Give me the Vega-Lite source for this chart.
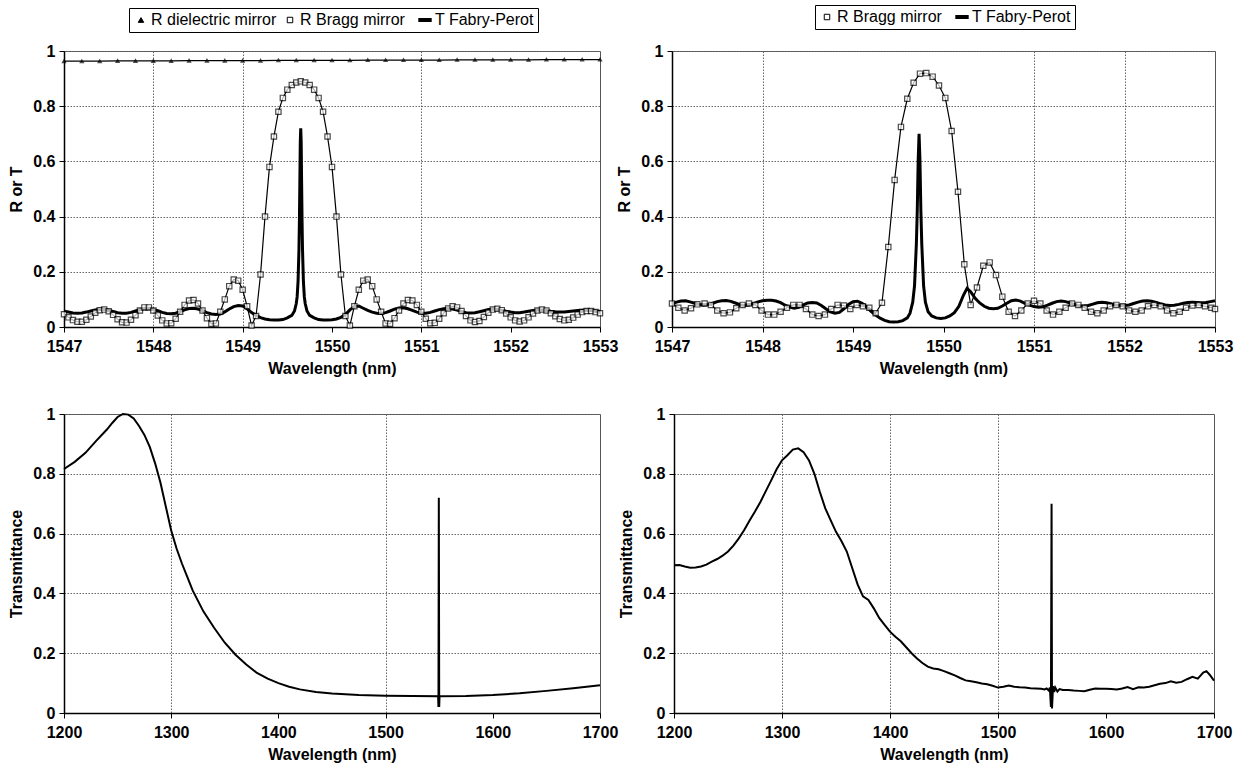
{
  "$schema": "https://vega.github.io/schema/vega-lite/v6.json",
  "background": "white",
  "padding": {"left": 8, "top": 4, "right": 5, "bottom": 5},
  "datasets": {
    "tl": [
      {"s":"R dielectric mirror","x":1547.0,"y":0.963},{"s":"R dielectric mirror","x":1547.2,"y":0.963},{"s":"R dielectric mirror","x":1547.4,"y":0.963},{"s":"R dielectric mirror","x":1547.6,"y":0.964},{"s":"R dielectric mirror","x":1547.8,"y":0.964},{"s":"R dielectric mirror","x":1548.0,"y":0.964},{"s":"R dielectric mirror","x":1548.2,"y":0.964},{"s":"R dielectric mirror","x":1548.4,"y":0.965},{"s":"R dielectric mirror","x":1548.6,"y":0.965},{"s":"R dielectric mirror","x":1548.8,"y":0.965},{"s":"R dielectric mirror","x":1549.0,"y":0.965},{"s":"R dielectric mirror","x":1549.2,"y":0.965},{"s":"R dielectric mirror","x":1549.4,"y":0.966},{"s":"R dielectric mirror","x":1549.6,"y":0.966},{"s":"R dielectric mirror","x":1549.8,"y":0.966},{"s":"R dielectric mirror","x":1550.0,"y":0.966},{"s":"R dielectric mirror","x":1550.2,"y":0.966},{"s":"R dielectric mirror","x":1550.4,"y":0.967},{"s":"R dielectric mirror","x":1550.6,"y":0.967},{"s":"R dielectric mirror","x":1550.8,"y":0.967},{"s":"R dielectric mirror","x":1551.0,"y":0.967},{"s":"R dielectric mirror","x":1551.2,"y":0.967},{"s":"R dielectric mirror","x":1551.4,"y":0.968},{"s":"R dielectric mirror","x":1551.6,"y":0.968},{"s":"R dielectric mirror","x":1551.8,"y":0.968},{"s":"R dielectric mirror","x":1552.0,"y":0.968},{"s":"R dielectric mirror","x":1552.2,"y":0.968},{"s":"R dielectric mirror","x":1552.4,"y":0.969},{"s":"R dielectric mirror","x":1552.6,"y":0.969},{"s":"R dielectric mirror","x":1552.8,"y":0.969},{"s":"R dielectric mirror","x":1553.0,"y":0.969},
      {"s":"R Bragg mirror","x":1547.00,"y":0.046},{"s":"R Bragg mirror","x":1547.05,"y":0.035},{"s":"R Bragg mirror","x":1547.10,"y":0.025},{"s":"R Bragg mirror","x":1547.15,"y":0.019},{"s":"R Bragg mirror","x":1547.20,"y":0.019},{"s":"R Bragg mirror","x":1547.25,"y":0.026},{"s":"R Bragg mirror","x":1547.30,"y":0.038},{"s":"R Bragg mirror","x":1547.35,"y":0.052},{"s":"R Bragg mirror","x":1547.40,"y":0.061},{"s":"R Bragg mirror","x":1547.45,"y":0.063},
      {"s":"R Bragg mirror","x":1547.50,"y":0.057},{"s":"R Bragg mirror","x":1547.55,"y":0.044},{"s":"R Bragg mirror","x":1547.60,"y":0.028},{"s":"R Bragg mirror","x":1547.65,"y":0.017},{"s":"R Bragg mirror","x":1547.70,"y":0.016},{"s":"R Bragg mirror","x":1547.75,"y":0.026},{"s":"R Bragg mirror","x":1547.80,"y":0.043},{"s":"R Bragg mirror","x":1547.85,"y":0.060},{"s":"R Bragg mirror","x":1547.90,"y":0.071},{"s":"R Bragg mirror","x":1547.95,"y":0.071},
      {"s":"R Bragg mirror","x":1548.00,"y":0.060},{"s":"R Bragg mirror","x":1548.05,"y":0.042},{"s":"R Bragg mirror","x":1548.10,"y":0.024},{"s":"R Bragg mirror","x":1548.15,"y":0.013},{"s":"R Bragg mirror","x":1548.20,"y":0.014},{"s":"R Bragg mirror","x":1548.25,"y":0.030},{"s":"R Bragg mirror","x":1548.30,"y":0.055},{"s":"R Bragg mirror","x":1548.35,"y":0.080},{"s":"R Bragg mirror","x":1548.40,"y":0.096},{"s":"R Bragg mirror","x":1548.45,"y":0.098},
      {"s":"R Bragg mirror","x":1548.50,"y":0.085},{"s":"R Bragg mirror","x":1548.55,"y":0.060},{"s":"R Bragg mirror","x":1548.60,"y":0.032},{"s":"R Bragg mirror","x":1548.65,"y":0.012},{"s":"R Bragg mirror","x":1548.70,"y":0.013},{"s":"R Bragg mirror","x":1548.75,"y":0.055},{"s":"R Bragg mirror","x":1548.80,"y":0.100},{"s":"R Bragg mirror","x":1548.85,"y":0.148},{"s":"R Bragg mirror","x":1548.90,"y":0.172},{"s":"R Bragg mirror","x":1548.95,"y":0.168},
      {"s":"R Bragg mirror","x":1549.00,"y":0.135},{"s":"R Bragg mirror","x":1549.05,"y":0.075},{"s":"R Bragg mirror","x":1549.10,"y":0.005},{"s":"R Bragg mirror","x":1549.15,"y":0.040},{"s":"R Bragg mirror","x":1549.20,"y":0.190},{"s":"R Bragg mirror","x":1549.25,"y":0.400},{"s":"R Bragg mirror","x":1549.30,"y":0.580},{"s":"R Bragg mirror","x":1549.35,"y":0.690},{"s":"R Bragg mirror","x":1549.40,"y":0.780},{"s":"R Bragg mirror","x":1549.45,"y":0.830},
      {"s":"R Bragg mirror","x":1549.50,"y":0.860},{"s":"R Bragg mirror","x":1549.55,"y":0.877},{"s":"R Bragg mirror","x":1549.60,"y":0.886},{"s":"R Bragg mirror","x":1549.65,"y":0.890},{"s":"R Bragg mirror","x":1549.70,"y":0.886},{"s":"R Bragg mirror","x":1549.75,"y":0.877},{"s":"R Bragg mirror","x":1549.80,"y":0.860},{"s":"R Bragg mirror","x":1549.85,"y":0.830},{"s":"R Bragg mirror","x":1549.90,"y":0.780},{"s":"R Bragg mirror","x":1549.95,"y":0.690},
      {"s":"R Bragg mirror","x":1550.00,"y":0.580},{"s":"R Bragg mirror","x":1550.05,"y":0.400},{"s":"R Bragg mirror","x":1550.10,"y":0.190},{"s":"R Bragg mirror","x":1550.15,"y":0.040},{"s":"R Bragg mirror","x":1550.20,"y":0.005},{"s":"R Bragg mirror","x":1550.25,"y":0.075},{"s":"R Bragg mirror","x":1550.30,"y":0.135},{"s":"R Bragg mirror","x":1550.35,"y":0.168},{"s":"R Bragg mirror","x":1550.40,"y":0.172},{"s":"R Bragg mirror","x":1550.45,"y":0.148},
      {"s":"R Bragg mirror","x":1550.50,"y":0.100},{"s":"R Bragg mirror","x":1550.55,"y":0.055},{"s":"R Bragg mirror","x":1550.60,"y":0.013},{"s":"R Bragg mirror","x":1550.65,"y":0.012},{"s":"R Bragg mirror","x":1550.70,"y":0.032},{"s":"R Bragg mirror","x":1550.75,"y":0.060},{"s":"R Bragg mirror","x":1550.80,"y":0.085},{"s":"R Bragg mirror","x":1550.85,"y":0.098},{"s":"R Bragg mirror","x":1550.90,"y":0.096},{"s":"R Bragg mirror","x":1550.95,"y":0.080},
      {"s":"R Bragg mirror","x":1551.00,"y":0.055},{"s":"R Bragg mirror","x":1551.05,"y":0.030},{"s":"R Bragg mirror","x":1551.10,"y":0.014},{"s":"R Bragg mirror","x":1551.15,"y":0.015},{"s":"R Bragg mirror","x":1551.20,"y":0.030},{"s":"R Bragg mirror","x":1551.25,"y":0.050},{"s":"R Bragg mirror","x":1551.30,"y":0.067},{"s":"R Bragg mirror","x":1551.35,"y":0.075},{"s":"R Bragg mirror","x":1551.40,"y":0.071},{"s":"R Bragg mirror","x":1551.45,"y":0.058},
      {"s":"R Bragg mirror","x":1551.50,"y":0.040},{"s":"R Bragg mirror","x":1551.55,"y":0.024},{"s":"R Bragg mirror","x":1551.60,"y":0.018},{"s":"R Bragg mirror","x":1551.65,"y":0.022},{"s":"R Bragg mirror","x":1551.70,"y":0.036},{"s":"R Bragg mirror","x":1551.75,"y":0.052},{"s":"R Bragg mirror","x":1551.80,"y":0.063},{"s":"R Bragg mirror","x":1551.85,"y":0.066},{"s":"R Bragg mirror","x":1551.90,"y":0.061},{"s":"R Bragg mirror","x":1551.95,"y":0.049},
      {"s":"R Bragg mirror","x":1552.00,"y":0.035},{"s":"R Bragg mirror","x":1552.05,"y":0.024},{"s":"R Bragg mirror","x":1552.10,"y":0.020},{"s":"R Bragg mirror","x":1552.15,"y":0.024},{"s":"R Bragg mirror","x":1552.20,"y":0.035},{"s":"R Bragg mirror","x":1552.25,"y":0.049},{"s":"R Bragg mirror","x":1552.30,"y":0.060},{"s":"R Bragg mirror","x":1552.35,"y":0.063},{"s":"R Bragg mirror","x":1552.40,"y":0.060},{"s":"R Bragg mirror","x":1552.45,"y":0.050},
      {"s":"R Bragg mirror","x":1552.50,"y":0.039},{"s":"R Bragg mirror","x":1552.55,"y":0.029},{"s":"R Bragg mirror","x":1552.60,"y":0.024},{"s":"R Bragg mirror","x":1552.65,"y":0.026},{"s":"R Bragg mirror","x":1552.70,"y":0.034},{"s":"R Bragg mirror","x":1552.75,"y":0.045},{"s":"R Bragg mirror","x":1552.80,"y":0.054},{"s":"R Bragg mirror","x":1552.85,"y":0.058},{"s":"R Bragg mirror","x":1552.90,"y":0.058},{"s":"R Bragg mirror","x":1552.95,"y":0.054},{"s":"R Bragg mirror","x":1553.00,"y":0.050},
      {"s":"T Fabry-Perot","x":1547.00,"y":0.057},{"s":"T Fabry-Perot","x":1547.05,"y":0.054},{"s":"T Fabry-Perot","x":1547.10,"y":0.051},{"s":"T Fabry-Perot","x":1547.15,"y":0.050},{"s":"T Fabry-Perot","x":1547.20,"y":0.051},{"s":"T Fabry-Perot","x":1547.25,"y":0.054},{"s":"T Fabry-Perot","x":1547.30,"y":0.058},{"s":"T Fabry-Perot","x":1547.35,"y":0.062},{"s":"T Fabry-Perot","x":1547.40,"y":0.064},{"s":"T Fabry-Perot","x":1547.45,"y":0.063},
      {"s":"T Fabry-Perot","x":1547.50,"y":0.060},{"s":"T Fabry-Perot","x":1547.55,"y":0.056},{"s":"T Fabry-Perot","x":1547.60,"y":0.052},{"s":"T Fabry-Perot","x":1547.65,"y":0.050},{"s":"T Fabry-Perot","x":1547.70,"y":0.050},{"s":"T Fabry-Perot","x":1547.75,"y":0.053},{"s":"T Fabry-Perot","x":1547.80,"y":0.058},{"s":"T Fabry-Perot","x":1547.85,"y":0.063},{"s":"T Fabry-Perot","x":1547.90,"y":0.066},{"s":"T Fabry-Perot","x":1547.95,"y":0.067},
      {"s":"T Fabry-Perot","x":1548.00,"y":0.064},{"s":"T Fabry-Perot","x":1548.05,"y":0.059},{"s":"T Fabry-Perot","x":1548.10,"y":0.053},{"s":"T Fabry-Perot","x":1548.15,"y":0.049},{"s":"T Fabry-Perot","x":1548.20,"y":0.048},{"s":"T Fabry-Perot","x":1548.25,"y":0.050},{"s":"T Fabry-Perot","x":1548.30,"y":0.056},{"s":"T Fabry-Perot","x":1548.35,"y":0.062},{"s":"T Fabry-Perot","x":1548.40,"y":0.067},{"s":"T Fabry-Perot","x":1548.45,"y":0.068},
      {"s":"T Fabry-Perot","x":1548.50,"y":0.065},{"s":"T Fabry-Perot","x":1548.55,"y":0.059},{"s":"T Fabry-Perot","x":1548.60,"y":0.052},{"s":"T Fabry-Perot","x":1548.65,"y":0.047},{"s":"T Fabry-Perot","x":1548.70,"y":0.045},{"s":"T Fabry-Perot","x":1548.75,"y":0.047},{"s":"T Fabry-Perot","x":1548.80,"y":0.055},{"s":"T Fabry-Perot","x":1548.85,"y":0.065},{"s":"T Fabry-Perot","x":1548.90,"y":0.074},{"s":"T Fabry-Perot","x":1548.95,"y":0.078},
      {"s":"T Fabry-Perot","x":1549.00,"y":0.076},{"s":"T Fabry-Perot","x":1549.05,"y":0.066},{"s":"T Fabry-Perot","x":1549.10,"y":0.052},{"s":"T Fabry-Perot","x":1549.15,"y":0.042},{"s":"T Fabry-Perot","x":1549.20,"y":0.034},{"s":"T Fabry-Perot","x":1549.25,"y":0.029},{"s":"T Fabry-Perot","x":1549.30,"y":0.026},{"s":"T Fabry-Perot","x":1549.35,"y":0.025},{"s":"T Fabry-Perot","x":1549.40,"y":0.025},{"s":"T Fabry-Perot","x":1549.45,"y":0.027},
      {"s":"T Fabry-Perot","x":1549.50,"y":0.033},{"s":"T Fabry-Perot","x":1549.55,"y":0.042},{"s":"T Fabry-Perot","x":1549.58,"y":0.058},{"s":"T Fabry-Perot","x":1549.60,"y":0.085},{"s":"T Fabry-Perot","x":1549.61,"y":0.110},{"s":"T Fabry-Perot","x":1549.62,"y":0.165},{"s":"T Fabry-Perot","x":1549.63,"y":0.280},{"s":"T Fabry-Perot","x":1549.635,"y":0.380},{"s":"T Fabry-Perot","x":1549.64,"y":0.520},{"s":"T Fabry-Perot","x":1549.645,"y":0.670},{"s":"T Fabry-Perot","x":1549.65,"y":0.720},
      {"s":"T Fabry-Perot","x":1549.655,"y":0.670},{"s":"T Fabry-Perot","x":1549.66,"y":0.520},{"s":"T Fabry-Perot","x":1549.665,"y":0.380},{"s":"T Fabry-Perot","x":1549.67,"y":0.280},{"s":"T Fabry-Perot","x":1549.68,"y":0.165},{"s":"T Fabry-Perot","x":1549.69,"y":0.110},{"s":"T Fabry-Perot","x":1549.70,"y":0.085},{"s":"T Fabry-Perot","x":1549.72,"y":0.058},{"s":"T Fabry-Perot","x":1549.75,"y":0.042},{"s":"T Fabry-Perot","x":1549.80,"y":0.033},
      {"s":"T Fabry-Perot","x":1549.85,"y":0.027},{"s":"T Fabry-Perot","x":1549.90,"y":0.025},{"s":"T Fabry-Perot","x":1549.95,"y":0.025},{"s":"T Fabry-Perot","x":1550.00,"y":0.026},{"s":"T Fabry-Perot","x":1550.05,"y":0.029},{"s":"T Fabry-Perot","x":1550.10,"y":0.035},{"s":"T Fabry-Perot","x":1550.15,"y":0.045},{"s":"T Fabry-Perot","x":1550.20,"y":0.062},{"s":"T Fabry-Perot","x":1550.25,"y":0.074},{"s":"T Fabry-Perot","x":1550.30,"y":0.076},
      {"s":"T Fabry-Perot","x":1550.35,"y":0.068},{"s":"T Fabry-Perot","x":1550.40,"y":0.060},{"s":"T Fabry-Perot","x":1550.45,"y":0.054},{"s":"T Fabry-Perot","x":1550.50,"y":0.050},{"s":"T Fabry-Perot","x":1550.55,"y":0.049},{"s":"T Fabry-Perot","x":1550.60,"y":0.052},{"s":"T Fabry-Perot","x":1550.65,"y":0.058},{"s":"T Fabry-Perot","x":1550.70,"y":0.065},{"s":"T Fabry-Perot","x":1550.75,"y":0.069},{"s":"T Fabry-Perot","x":1550.80,"y":0.070},
      {"s":"T Fabry-Perot","x":1550.85,"y":0.066},{"s":"T Fabry-Perot","x":1550.90,"y":0.060},{"s":"T Fabry-Perot","x":1550.95,"y":0.054},{"s":"T Fabry-Perot","x":1551.00,"y":0.050},{"s":"T Fabry-Perot","x":1551.05,"y":0.050},{"s":"T Fabry-Perot","x":1551.10,"y":0.053},{"s":"T Fabry-Perot","x":1551.15,"y":0.058},{"s":"T Fabry-Perot","x":1551.20,"y":0.063},{"s":"T Fabry-Perot","x":1551.25,"y":0.066},{"s":"T Fabry-Perot","x":1551.30,"y":0.067},
      {"s":"T Fabry-Perot","x":1551.35,"y":0.065},{"s":"T Fabry-Perot","x":1551.40,"y":0.061},{"s":"T Fabry-Perot","x":1551.45,"y":0.056},{"s":"T Fabry-Perot","x":1551.50,"y":0.052},{"s":"T Fabry-Perot","x":1551.55,"y":0.051},{"s":"T Fabry-Perot","x":1551.60,"y":0.052},{"s":"T Fabry-Perot","x":1551.65,"y":0.055},{"s":"T Fabry-Perot","x":1551.70,"y":0.059},{"s":"T Fabry-Perot","x":1551.75,"y":0.063},{"s":"T Fabry-Perot","x":1551.80,"y":0.064},
      {"s":"T Fabry-Perot","x":1551.85,"y":0.064},{"s":"T Fabry-Perot","x":1551.90,"y":0.061},{"s":"T Fabry-Perot","x":1551.95,"y":0.057},{"s":"T Fabry-Perot","x":1552.00,"y":0.054},{"s":"T Fabry-Perot","x":1552.05,"y":0.052},{"s":"T Fabry-Perot","x":1552.10,"y":0.052},{"s":"T Fabry-Perot","x":1552.15,"y":0.054},{"s":"T Fabry-Perot","x":1552.20,"y":0.057},{"s":"T Fabry-Perot","x":1552.25,"y":0.060},{"s":"T Fabry-Perot","x":1552.30,"y":0.062},
      {"s":"T Fabry-Perot","x":1552.35,"y":0.062},{"s":"T Fabry-Perot","x":1552.40,"y":0.060},{"s":"T Fabry-Perot","x":1552.45,"y":0.057},{"s":"T Fabry-Perot","x":1552.50,"y":0.055},{"s":"T Fabry-Perot","x":1552.55,"y":0.054},{"s":"T Fabry-Perot","x":1552.60,"y":0.054},{"s":"T Fabry-Perot","x":1552.65,"y":0.056},{"s":"T Fabry-Perot","x":1552.70,"y":0.058},{"s":"T Fabry-Perot","x":1552.75,"y":0.060},{"s":"T Fabry-Perot","x":1552.80,"y":0.061},
      {"s":"T Fabry-Perot","x":1552.85,"y":0.061},{"s":"T Fabry-Perot","x":1552.90,"y":0.060},{"s":"T Fabry-Perot","x":1552.95,"y":0.058},{"s":"T Fabry-Perot","x":1553.00,"y":0.057}
    ],
    "tr": [
      {"s":"R Bragg mirror","x":1547.00,"y":0.085},{"s":"R Bragg mirror","x":1547.07,"y":0.070},{"s":"R Bragg mirror","x":1547.14,"y":0.060},{"s":"R Bragg mirror","x":1547.21,"y":0.068},{"s":"R Bragg mirror","x":1547.28,"y":0.082},{"s":"R Bragg mirror","x":1547.36,"y":0.085},{"s":"R Bragg mirror","x":1547.43,"y":0.080},{"s":"R Bragg mirror","x":1547.50,"y":0.060},{"s":"R Bragg mirror","x":1547.57,"y":0.050},{"s":"R Bragg mirror","x":1547.64,"y":0.053},
      {"s":"R Bragg mirror","x":1547.71,"y":0.068},{"s":"R Bragg mirror","x":1547.78,"y":0.080},{"s":"R Bragg mirror","x":1547.85,"y":0.085},{"s":"R Bragg mirror","x":1547.92,"y":0.080},{"s":"R Bragg mirror","x":1547.99,"y":0.060},{"s":"R Bragg mirror","x":1548.06,"y":0.045},{"s":"R Bragg mirror","x":1548.13,"y":0.045},{"s":"R Bragg mirror","x":1548.20,"y":0.055},{"s":"R Bragg mirror","x":1548.27,"y":0.070},{"s":"R Bragg mirror","x":1548.34,"y":0.080},
      {"s":"R Bragg mirror","x":1548.41,"y":0.080},{"s":"R Bragg mirror","x":1548.48,"y":0.065},{"s":"R Bragg mirror","x":1548.55,"y":0.045},{"s":"R Bragg mirror","x":1548.62,"y":0.040},{"s":"R Bragg mirror","x":1548.69,"y":0.045},{"s":"R Bragg mirror","x":1548.76,"y":0.065},{"s":"R Bragg mirror","x":1548.83,"y":0.080},{"s":"R Bragg mirror","x":1548.90,"y":0.078},{"s":"R Bragg mirror","x":1548.97,"y":0.065},{"s":"R Bragg mirror","x":1549.04,"y":0.080},
      {"s":"R Bragg mirror","x":1549.11,"y":0.075},{"s":"R Bragg mirror","x":1549.18,"y":0.070},{"s":"R Bragg mirror","x":1549.25,"y":0.050},{"s":"R Bragg mirror","x":1549.32,"y":0.088},{"s":"R Bragg mirror","x":1549.39,"y":0.290},{"s":"R Bragg mirror","x":1549.46,"y":0.533},{"s":"R Bragg mirror","x":1549.53,"y":0.725},{"s":"R Bragg mirror","x":1549.60,"y":0.827},{"s":"R Bragg mirror","x":1549.67,"y":0.885},{"s":"R Bragg mirror","x":1549.74,"y":0.918},
      {"s":"R Bragg mirror","x":1549.81,"y":0.920},{"s":"R Bragg mirror","x":1549.88,"y":0.907},{"s":"R Bragg mirror","x":1549.95,"y":0.875},{"s":"R Bragg mirror","x":1550.02,"y":0.830},{"s":"R Bragg mirror","x":1550.09,"y":0.710},{"s":"R Bragg mirror","x":1550.16,"y":0.490},{"s":"R Bragg mirror","x":1550.23,"y":0.227},{"s":"R Bragg mirror","x":1550.30,"y":0.080},{"s":"R Bragg mirror","x":1550.37,"y":0.143},{"s":"R Bragg mirror","x":1550.44,"y":0.222},
      {"s":"R Bragg mirror","x":1550.51,"y":0.234},{"s":"R Bragg mirror","x":1550.58,"y":0.188},{"s":"R Bragg mirror","x":1550.65,"y":0.110},{"s":"R Bragg mirror","x":1550.72,"y":0.055},{"s":"R Bragg mirror","x":1550.79,"y":0.040},{"s":"R Bragg mirror","x":1550.86,"y":0.060},{"s":"R Bragg mirror","x":1550.93,"y":0.085},{"s":"R Bragg mirror","x":1551.00,"y":0.095},{"s":"R Bragg mirror","x":1551.07,"y":0.085},{"s":"R Bragg mirror","x":1551.14,"y":0.060},
      {"s":"R Bragg mirror","x":1551.21,"y":0.045},{"s":"R Bragg mirror","x":1551.28,"y":0.055},{"s":"R Bragg mirror","x":1551.35,"y":0.070},{"s":"R Bragg mirror","x":1551.42,"y":0.085},{"s":"R Bragg mirror","x":1551.49,"y":0.080},{"s":"R Bragg mirror","x":1551.56,"y":0.070},{"s":"R Bragg mirror","x":1551.63,"y":0.055},{"s":"R Bragg mirror","x":1551.70,"y":0.050},{"s":"R Bragg mirror","x":1551.77,"y":0.060},{"s":"R Bragg mirror","x":1551.84,"y":0.075},
      {"s":"R Bragg mirror","x":1551.91,"y":0.080},{"s":"R Bragg mirror","x":1551.98,"y":0.075},{"s":"R Bragg mirror","x":1552.05,"y":0.060},{"s":"R Bragg mirror","x":1552.12,"y":0.055},{"s":"R Bragg mirror","x":1552.19,"y":0.060},{"s":"R Bragg mirror","x":1552.26,"y":0.075},{"s":"R Bragg mirror","x":1552.33,"y":0.080},{"s":"R Bragg mirror","x":1552.40,"y":0.075},{"s":"R Bragg mirror","x":1552.47,"y":0.060},{"s":"R Bragg mirror","x":1552.54,"y":0.050},
      {"s":"R Bragg mirror","x":1552.61,"y":0.055},{"s":"R Bragg mirror","x":1552.68,"y":0.070},{"s":"R Bragg mirror","x":1552.75,"y":0.078},{"s":"R Bragg mirror","x":1552.82,"y":0.080},{"s":"R Bragg mirror","x":1552.89,"y":0.075},{"s":"R Bragg mirror","x":1552.96,"y":0.070},{"s":"R Bragg mirror","x":1553.00,"y":0.065},
      {"s":"T Fabry-Perot","x":1547.00,"y":0.084},{"s":"T Fabry-Perot","x":1547.05,"y":0.090},{"s":"T Fabry-Perot","x":1547.10,"y":0.094},{"s":"T Fabry-Perot","x":1547.15,"y":0.095},{"s":"T Fabry-Perot","x":1547.20,"y":0.091},{"s":"T Fabry-Perot","x":1547.25,"y":0.086},{"s":"T Fabry-Perot","x":1547.30,"y":0.081},{"s":"T Fabry-Perot","x":1547.35,"y":0.079},{"s":"T Fabry-Perot","x":1547.40,"y":0.081},{"s":"T Fabry-Perot","x":1547.45,"y":0.086},
      {"s":"T Fabry-Perot","x":1547.50,"y":0.092},{"s":"T Fabry-Perot","x":1547.55,"y":0.095},{"s":"T Fabry-Perot","x":1547.60,"y":0.096},{"s":"T Fabry-Perot","x":1547.65,"y":0.093},{"s":"T Fabry-Perot","x":1547.70,"y":0.087},{"s":"T Fabry-Perot","x":1547.75,"y":0.081},{"s":"T Fabry-Perot","x":1547.80,"y":0.078},{"s":"T Fabry-Perot","x":1547.85,"y":0.080},{"s":"T Fabry-Perot","x":1547.90,"y":0.085},{"s":"T Fabry-Perot","x":1547.95,"y":0.091},
      {"s":"T Fabry-Perot","x":1548.00,"y":0.095},{"s":"T Fabry-Perot","x":1548.05,"y":0.097},{"s":"T Fabry-Perot","x":1548.10,"y":0.097},{"s":"T Fabry-Perot","x":1548.15,"y":0.094},{"s":"T Fabry-Perot","x":1548.20,"y":0.088},{"s":"T Fabry-Perot","x":1548.25,"y":0.079},{"s":"T Fabry-Perot","x":1548.30,"y":0.072},{"s":"T Fabry-Perot","x":1548.35,"y":0.068},{"s":"T Fabry-Perot","x":1548.40,"y":0.071},{"s":"T Fabry-Perot","x":1548.45,"y":0.080},
      {"s":"T Fabry-Perot","x":1548.50,"y":0.087},{"s":"T Fabry-Perot","x":1548.55,"y":0.089},{"s":"T Fabry-Perot","x":1548.60,"y":0.087},{"s":"T Fabry-Perot","x":1548.65,"y":0.078},{"s":"T Fabry-Perot","x":1548.70,"y":0.066},{"s":"T Fabry-Perot","x":1548.75,"y":0.055},{"s":"T Fabry-Perot","x":1548.80,"y":0.050},{"s":"T Fabry-Perot","x":1548.85,"y":0.053},{"s":"T Fabry-Perot","x":1548.90,"y":0.066},{"s":"T Fabry-Perot","x":1548.95,"y":0.082},
      {"s":"T Fabry-Perot","x":1549.00,"y":0.092},{"s":"T Fabry-Perot","x":1549.05,"y":0.093},{"s":"T Fabry-Perot","x":1549.10,"y":0.086},{"s":"T Fabry-Perot","x":1549.15,"y":0.073},{"s":"T Fabry-Perot","x":1549.20,"y":0.057},{"s":"T Fabry-Perot","x":1549.25,"y":0.043},{"s":"T Fabry-Perot","x":1549.30,"y":0.032},{"s":"T Fabry-Perot","x":1549.35,"y":0.024},{"s":"T Fabry-Perot","x":1549.40,"y":0.019},{"s":"T Fabry-Perot","x":1549.45,"y":0.018},
      {"s":"T Fabry-Perot","x":1549.50,"y":0.019},{"s":"T Fabry-Perot","x":1549.55,"y":0.023},{"s":"T Fabry-Perot","x":1549.60,"y":0.033},{"s":"T Fabry-Perot","x":1549.63,"y":0.050},{"s":"T Fabry-Perot","x":1549.66,"y":0.090},{"s":"T Fabry-Perot","x":1549.68,"y":0.150},{"s":"T Fabry-Perot","x":1549.70,"y":0.300},{"s":"T Fabry-Perot","x":1549.71,"y":0.420},{"s":"T Fabry-Perot","x":1549.72,"y":0.600},{"s":"T Fabry-Perot","x":1549.73,"y":0.700},
      {"s":"T Fabry-Perot","x":1549.74,"y":0.600},{"s":"T Fabry-Perot","x":1549.75,"y":0.420},{"s":"T Fabry-Perot","x":1549.76,"y":0.300},{"s":"T Fabry-Perot","x":1549.78,"y":0.150},{"s":"T Fabry-Perot","x":1549.80,"y":0.090},{"s":"T Fabry-Perot","x":1549.83,"y":0.055},{"s":"T Fabry-Perot","x":1549.87,"y":0.040},{"s":"T Fabry-Perot","x":1549.92,"y":0.033},{"s":"T Fabry-Perot","x":1549.97,"y":0.031},{"s":"T Fabry-Perot","x":1550.02,"y":0.033},
      {"s":"T Fabry-Perot","x":1550.07,"y":0.040},{"s":"T Fabry-Perot","x":1550.12,"y":0.052},{"s":"T Fabry-Perot","x":1550.17,"y":0.075},{"s":"T Fabry-Perot","x":1550.22,"y":0.115},{"s":"T Fabry-Perot","x":1550.26,"y":0.140},{"s":"T Fabry-Perot","x":1550.30,"y":0.128},{"s":"T Fabry-Perot","x":1550.35,"y":0.104},{"s":"T Fabry-Perot","x":1550.40,"y":0.087},{"s":"T Fabry-Perot","x":1550.45,"y":0.075},{"s":"T Fabry-Perot","x":1550.50,"y":0.068},
      {"s":"T Fabry-Perot","x":1550.55,"y":0.066},{"s":"T Fabry-Perot","x":1550.60,"y":0.068},{"s":"T Fabry-Perot","x":1550.65,"y":0.076},{"s":"T Fabry-Perot","x":1550.70,"y":0.086},{"s":"T Fabry-Perot","x":1550.75,"y":0.095},{"s":"T Fabry-Perot","x":1550.80,"y":0.098},{"s":"T Fabry-Perot","x":1550.85,"y":0.094},{"s":"T Fabry-Perot","x":1550.90,"y":0.086},{"s":"T Fabry-Perot","x":1550.95,"y":0.079},{"s":"T Fabry-Perot","x":1551.00,"y":0.074},
      {"s":"T Fabry-Perot","x":1551.05,"y":0.072},{"s":"T Fabry-Perot","x":1551.10,"y":0.073},{"s":"T Fabry-Perot","x":1551.15,"y":0.079},{"s":"T Fabry-Perot","x":1551.20,"y":0.086},{"s":"T Fabry-Perot","x":1551.25,"y":0.092},{"s":"T Fabry-Perot","x":1551.30,"y":0.094},{"s":"T Fabry-Perot","x":1551.35,"y":0.092},{"s":"T Fabry-Perot","x":1551.40,"y":0.087},{"s":"T Fabry-Perot","x":1551.45,"y":0.081},{"s":"T Fabry-Perot","x":1551.50,"y":0.077},
      {"s":"T Fabry-Perot","x":1551.55,"y":0.076},{"s":"T Fabry-Perot","x":1551.60,"y":0.078},{"s":"T Fabry-Perot","x":1551.65,"y":0.083},{"s":"T Fabry-Perot","x":1551.70,"y":0.088},{"s":"T Fabry-Perot","x":1551.75,"y":0.090},{"s":"T Fabry-Perot","x":1551.80,"y":0.088},{"s":"T Fabry-Perot","x":1551.85,"y":0.084},{"s":"T Fabry-Perot","x":1551.90,"y":0.080},{"s":"T Fabry-Perot","x":1551.95,"y":0.078},{"s":"T Fabry-Perot","x":1552.00,"y":0.078},
      {"s":"T Fabry-Perot","x":1552.05,"y":0.080},{"s":"T Fabry-Perot","x":1552.10,"y":0.085},{"s":"T Fabry-Perot","x":1552.15,"y":0.090},{"s":"T Fabry-Perot","x":1552.20,"y":0.094},{"s":"T Fabry-Perot","x":1552.25,"y":0.095},{"s":"T Fabry-Perot","x":1552.30,"y":0.093},{"s":"T Fabry-Perot","x":1552.35,"y":0.089},{"s":"T Fabry-Perot","x":1552.40,"y":0.084},{"s":"T Fabry-Perot","x":1552.45,"y":0.080},{"s":"T Fabry-Perot","x":1552.50,"y":0.078},
      {"s":"T Fabry-Perot","x":1552.55,"y":0.079},{"s":"T Fabry-Perot","x":1552.60,"y":0.082},{"s":"T Fabry-Perot","x":1552.65,"y":0.086},{"s":"T Fabry-Perot","x":1552.70,"y":0.089},{"s":"T Fabry-Perot","x":1552.75,"y":0.090},{"s":"T Fabry-Perot","x":1552.80,"y":0.089},{"s":"T Fabry-Perot","x":1552.85,"y":0.088},{"s":"T Fabry-Perot","x":1552.90,"y":0.089},{"s":"T Fabry-Perot","x":1552.95,"y":0.092},{"s":"T Fabry-Perot","x":1553.00,"y":0.095}
    ],
    "bl": [
      {"x":1200,"y":0.816},{"x":1210,"y":0.840},{"x":1220,"y":0.870},{"x":1230,"y":0.910},{"x":1240,"y":0.948},{"x":1245,"y":0.970},{"x":1250,"y":0.990},{"x":1255,"y":1.0},{"x":1260,"y":0.998},{"x":1265,"y":0.985},
      {"x":1270,"y":0.960},{"x":1275,"y":0.930},{"x":1280,"y":0.890},{"x":1285,"y":0.835},{"x":1290,"y":0.770},{"x":1295,"y":0.690},{"x":1300,"y":0.610},{"x":1305,"y":0.550},{"x":1310,"y":0.500},{"x":1315,"y":0.455},
      {"x":1320,"y":0.410},{"x":1330,"y":0.340},{"x":1340,"y":0.285},{"x":1350,"y":0.235},{"x":1360,"y":0.195},{"x":1370,"y":0.162},{"x":1380,"y":0.134},{"x":1390,"y":0.115},{"x":1400,"y":0.100},{"x":1410,"y":0.088},
      {"x":1420,"y":0.079},{"x":1435,"y":0.070},{"x":1450,"y":0.065},{"x":1475,"y":0.060},{"x":1500,"y":0.058},{"x":1525,"y":0.057},{"x":1549.0,"y":0.056},{"x":1549.3,"y":0.020},{"x":1549.65,"y":0.720},{"x":1550.0,"y":0.020},
      {"x":1550.3,"y":0.056},{"x":1575,"y":0.057},{"x":1600,"y":0.060},{"x":1625,"y":0.066},{"x":1650,"y":0.074},{"x":1675,"y":0.083},{"x":1700,"y":0.093}
    ],
    "br": [
      {"x":1200,"y":0.494},{"x":1205,"y":0.495},{"x":1210,"y":0.490},{"x":1215,"y":0.486},{"x":1220,"y":0.487},{"x":1225,"y":0.490},{"x":1230,"y":0.496},{"x":1235,"y":0.506},{"x":1240,"y":0.515},{"x":1245,"y":0.526},
      {"x":1250,"y":0.540},{"x":1255,"y":0.560},{"x":1260,"y":0.584},{"x":1265,"y":0.612},{"x":1270,"y":0.644},{"x":1275,"y":0.674},{"x":1280,"y":0.706},{"x":1285,"y":0.742},{"x":1290,"y":0.778},{"x":1295,"y":0.815},
      {"x":1300,"y":0.845},{"x":1305,"y":0.862},{"x":1310,"y":0.881},{"x":1315,"y":0.885},{"x":1320,"y":0.872},{"x":1325,"y":0.845},{"x":1330,"y":0.800},{"x":1335,"y":0.740},{"x":1340,"y":0.685},{"x":1345,"y":0.645},
      {"x":1350,"y":0.606},{"x":1355,"y":0.575},{"x":1360,"y":0.540},{"x":1365,"y":0.485},{"x":1370,"y":0.430},{"x":1375,"y":0.390},{"x":1380,"y":0.378},{"x":1385,"y":0.350},{"x":1390,"y":0.318},{"x":1395,"y":0.295},
      {"x":1400,"y":0.272},{"x":1405,"y":0.255},{"x":1410,"y":0.240},{"x":1415,"y":0.220},{"x":1420,"y":0.200},{"x":1425,"y":0.182},{"x":1430,"y":0.167},{"x":1435,"y":0.155},{"x":1440,"y":0.149},{"x":1445,"y":0.146},
      {"x":1450,"y":0.140},{"x":1455,"y":0.133},{"x":1460,"y":0.126},{"x":1465,"y":0.117},{"x":1470,"y":0.109},{"x":1475,"y":0.106},{"x":1480,"y":0.103},{"x":1485,"y":0.099},{"x":1490,"y":0.096},{"x":1495,"y":0.091},
      {"x":1500,"y":0.085},{"x":1505,"y":0.088},{"x":1510,"y":0.092},{"x":1515,"y":0.088},{"x":1520,"y":0.086},{"x":1525,"y":0.085},{"x":1530,"y":0.083},{"x":1535,"y":0.082},{"x":1540,"y":0.081},{"x":1543,"y":0.079},
      {"x":1545,"y":0.082},{"x":1547,"y":0.075},{"x":1548,"y":0.085},{"x":1549,"y":0.020},{"x":1549.6,"y":0.700},{"x":1550,"y":0.015},{"x":1551,"y":0.090},{"x":1552,"y":0.070},{"x":1553,"y":0.085},{"x":1555,"y":0.072},
      {"x":1557,"y":0.080},{"x":1560,"y":0.077},{"x":1565,"y":0.077},{"x":1570,"y":0.075},{"x":1575,"y":0.074},{"x":1580,"y":0.073},{"x":1585,"y":0.078},{"x":1590,"y":0.082},{"x":1595,"y":0.081},{"x":1600,"y":0.081},
      {"x":1605,"y":0.080},{"x":1610,"y":0.079},{"x":1615,"y":0.082},{"x":1620,"y":0.087},{"x":1625,"y":0.080},{"x":1630,"y":0.086},{"x":1635,"y":0.085},{"x":1640,"y":0.088},{"x":1645,"y":0.093},{"x":1650,"y":0.098},
      {"x":1655,"y":0.100},{"x":1660,"y":0.106},{"x":1665,"y":0.101},{"x":1670,"y":0.104},{"x":1675,"y":0.113},{"x":1680,"y":0.121},{"x":1685,"y":0.115},{"x":1690,"y":0.135},{"x":1693,"y":0.140},{"x":1696,"y":0.128},{"x":1700,"y":0.108}
    ]
  },
  "vconcat": [
    {
      "hconcat": [
        {
          "width": 536, "height": 276,
          "data": {"name": "tl"},
          "layer": [
            {
              "mark": {"type": "line"},
              "encoding": {
                "x": {"field": "x", "type": "quantitative", "scale": {"domain": [1547, 1553], "nice": false, "zero": false}, "axis": {"values": [1547, 1548, 1549, 1550, 1551, 1552, 1553], "format": "d", "title": "Wavelength (nm)", "gridOpacity": {"condition": {"test": "datum.value == 1548 || datum.value == 1549 || datum.value == 1551", "value": 1}, "value": 0}}},
                "y": {"field": "y", "type": "quantitative", "scale": {"domain": [0, 1], "nice": false}, "axis": {"values": [0, 0.2, 0.4, 0.6, 0.8, 1], "format": "~g", "title": "R or T"}},
                "stroke": {"field": "s", "type": "nominal", "scale": {"domain": ["R dielectric mirror", "R Bragg mirror", "T Fabry-Perot"], "range": ["black", "black", "black"]}, "legend": {"orient": "none", "legendX": 65, "legendY": -43, "direction": "horizontal", "title": null, "encode": {"symbols": {"update": {"strokeWidth": {"signal": "datum.value === 'T Fabry-Perot' ? 4 : 1"}, "size": {"signal": "datum.value === 'T Fabry-Perot' ? 180 : 30"}}}}}},
                "strokeWidth": {"condition": {"test": "datum.s == 'T Fabry-Perot'", "value": 3}, "value": 1.2}
              }
            },
            {
              "transform": [{"filter": "datum.s != 'T Fabry-Perot'"}],
              "mark": {"type": "point", "filled": true, "strokeWidth": 1.2},
              "encoding": {
                "x": {"field": "x", "type": "quantitative"},
                "y": {"field": "y", "type": "quantitative"},
                "shape": {"field": "s", "type": "nominal", "scale": {"domain": ["R dielectric mirror", "R Bragg mirror", "T Fabry-Perot"], "range": ["triangle-up", "square", "stroke"]}, "legend": {"orient": "none", "legendX": 65, "legendY": -43, "direction": "horizontal", "title": null, "encode": {"symbols": {"update": {"strokeWidth": {"signal": "datum.value === 'T Fabry-Perot' ? 4 : 1"}, "size": {"signal": "datum.value === 'T Fabry-Perot' ? 180 : 30"}}}}}},
                "fill": {"field": "s", "type": "nominal", "scale": {"domain": ["R dielectric mirror", "R Bragg mirror", "T Fabry-Perot"], "range": ["black", "white", "black"]}, "legend": {"orient": "none", "legendX": 65, "legendY": -43, "direction": "horizontal", "title": null, "encode": {"symbols": {"update": {"strokeWidth": {"signal": "datum.value === 'T Fabry-Perot' ? 4 : 1"}, "size": {"signal": "datum.value === 'T Fabry-Perot' ? 180 : 30"}}}}}},
                "stroke": {"field": "s", "type": "nominal"},
                "size": {"condition": {"test": "datum.s == 'R dielectric mirror'", "value": 10}, "value": 28}
              }
            }
          ]
        },
        {
          "width": 543, "height": 276,
          "data": {"name": "tr"},
          "layer": [
            {
              "mark": {"type": "line"},
              "encoding": {
                "x": {"field": "x", "type": "quantitative", "scale": {"domain": [1547, 1553], "nice": false, "zero": false}, "axis": {"values": [1547, 1548, 1549, 1550, 1551, 1552, 1553], "format": "d", "title": "Wavelength (nm)", "gridOpacity": {"condition": {"test": "datum.value == 1548 || datum.value == 1551 || datum.value == 1552", "value": 1}, "value": 0}}},
                "y": {"field": "y", "type": "quantitative", "scale": {"domain": [0, 1], "nice": false}, "axis": {"values": [0, 0.2, 0.4, 0.6, 0.8, 1], "format": "~g", "title": "R or T"}},
                "stroke": {"field": "s", "type": "nominal", "scale": {"domain": ["R Bragg mirror", "T Fabry-Perot"], "range": ["black", "black"]}, "legend": {"orient": "none", "legendX": 143, "legendY": -46, "direction": "horizontal", "title": null, "encode": {"symbols": {"update": {"strokeWidth": {"signal": "datum.value === 'T Fabry-Perot' ? 4 : 1"}, "size": {"signal": "datum.value === 'T Fabry-Perot' ? 180 : 30"}}}}}},
                "strokeWidth": {"condition": {"test": "datum.s == 'T Fabry-Perot'", "value": 3}, "value": 1.2}
              }
            },
            {
              "transform": [{"filter": "datum.s == 'R Bragg mirror'"}],
              "mark": {"type": "point", "filled": true, "strokeWidth": 1.2, "size": 28},
              "encoding": {
                "x": {"field": "x", "type": "quantitative"},
                "y": {"field": "y", "type": "quantitative"},
                "shape": {"field": "s", "type": "nominal", "scale": {"domain": ["R Bragg mirror", "T Fabry-Perot"], "range": ["square", "stroke"]}, "legend": {"orient": "none", "legendX": 143, "legendY": -46, "direction": "horizontal", "title": null, "encode": {"symbols": {"update": {"strokeWidth": {"signal": "datum.value === 'T Fabry-Perot' ? 4 : 1"}, "size": {"signal": "datum.value === 'T Fabry-Perot' ? 180 : 30"}}}}}},
                "fill": {"field": "s", "type": "nominal", "scale": {"domain": ["R Bragg mirror", "T Fabry-Perot"], "range": ["white", "black"]}, "legend": {"orient": "none", "legendX": 143, "legendY": -46, "direction": "horizontal", "title": null, "encode": {"symbols": {"update": {"strokeWidth": {"signal": "datum.value === 'T Fabry-Perot' ? 4 : 1"}, "size": {"signal": "datum.value === 'T Fabry-Perot' ? 180 : 30"}}}}}},
                "stroke": {"field": "s", "type": "nominal"}
              }
            }
          ]
        }
      ],
      "spacing": 72,
      "bounds": "flush",
      "resolve": {"scale": {"stroke": "independent", "shape": "independent", "fill": "independent"}, "legend": {"stroke": "independent", "shape": "independent", "fill": "independent"}}
    },
    {
      "hconcat": [
        {
          "width": 536, "height": 299,
          "data": {"name": "bl"},
          "mark": {"type": "line", "stroke": "black", "strokeWidth": 2},
          "encoding": {
            "x": {"field": "x", "type": "quantitative", "scale": {"domain": [1200, 1700], "nice": false, "zero": false}, "axis": {"values": [1200, 1300, 1400, 1500, 1600, 1700], "format": "d", "title": "Wavelength (nm)", "gridOpacity": {"condition": {"test": "datum.value == 1300 || datum.value == 1500", "value": 1}, "value": 0}}},
            "y": {"field": "y", "type": "quantitative", "scale": {"domain": [0, 1], "nice": false}, "axis": {"values": [0, 0.2, 0.4, 0.6, 0.8, 1], "format": "~g", "title": "Transmittance"}}
          }
        },
        {
          "width": 540, "height": 299,
          "data": {"name": "br"},
          "mark": {"type": "line", "stroke": "black", "strokeWidth": 2},
          "encoding": {
            "x": {"field": "x", "type": "quantitative", "scale": {"domain": [1200, 1700], "nice": false, "zero": false}, "axis": {"values": [1200, 1300, 1400, 1500, 1600, 1700], "format": "d", "title": "Wavelength (nm)", "gridOpacity": {"condition": {"test": "datum.value == 1300 || datum.value == 1400 || datum.value == 1500", "value": 1}, "value": 0}}},
            "y": {"field": "y", "type": "quantitative", "scale": {"domain": [0, 1], "nice": false}, "axis": {"values": [0, 0.2, 0.4, 0.6, 0.8, 1], "format": "~g", "title": "Transmittance"}}
          }
        }
      ],
      "spacing": 74,
      "bounds": "flush"
    }
  ],
  "spacing": 28,
  "resolve": {"scale": {"stroke": "independent", "shape": "independent", "fill": "independent"}, "legend": {"stroke": "independent", "shape": "independent", "fill": "independent"}},
  "config": {
    "font": "Liberation Sans",
    "view": {"stroke": "#555", "strokeWidth": 1},
    "axis": {"labelFont": "Liberation Sans", "labelFontWeight": "bold", "labelFontSize": 16, "labelColor": "black", "titleFont": "Liberation Sans", "titleFontWeight": "bold", "titleFontSize": 16, "titleColor": "black", "domainColor": "black", "domainWidth": 1.5, "tickColor": "black", "tickSize": 5, "gridColor": "#666", "gridDash": [1.5, 1.5], "gridWidth": 1, "labelFlush": false},
    "axisX": {"labelPadding": 6, "titlePadding": 6},
    "axisY": {"labelPadding": 4, "titlePadding": 8},
    "legend": {"strokeColor": "black", "strokeWidth": 1, "padding": 4, "labelFont": "Liberation Sans", "labelFontSize": 16, "labelColor": "black", "symbolSize": 30, "symbolStrokeWidth": 1, "symbolStrokeColor": "black", "columnPadding": 5, "labelOffset": 2, "fillColor": "white"}
  }
}
